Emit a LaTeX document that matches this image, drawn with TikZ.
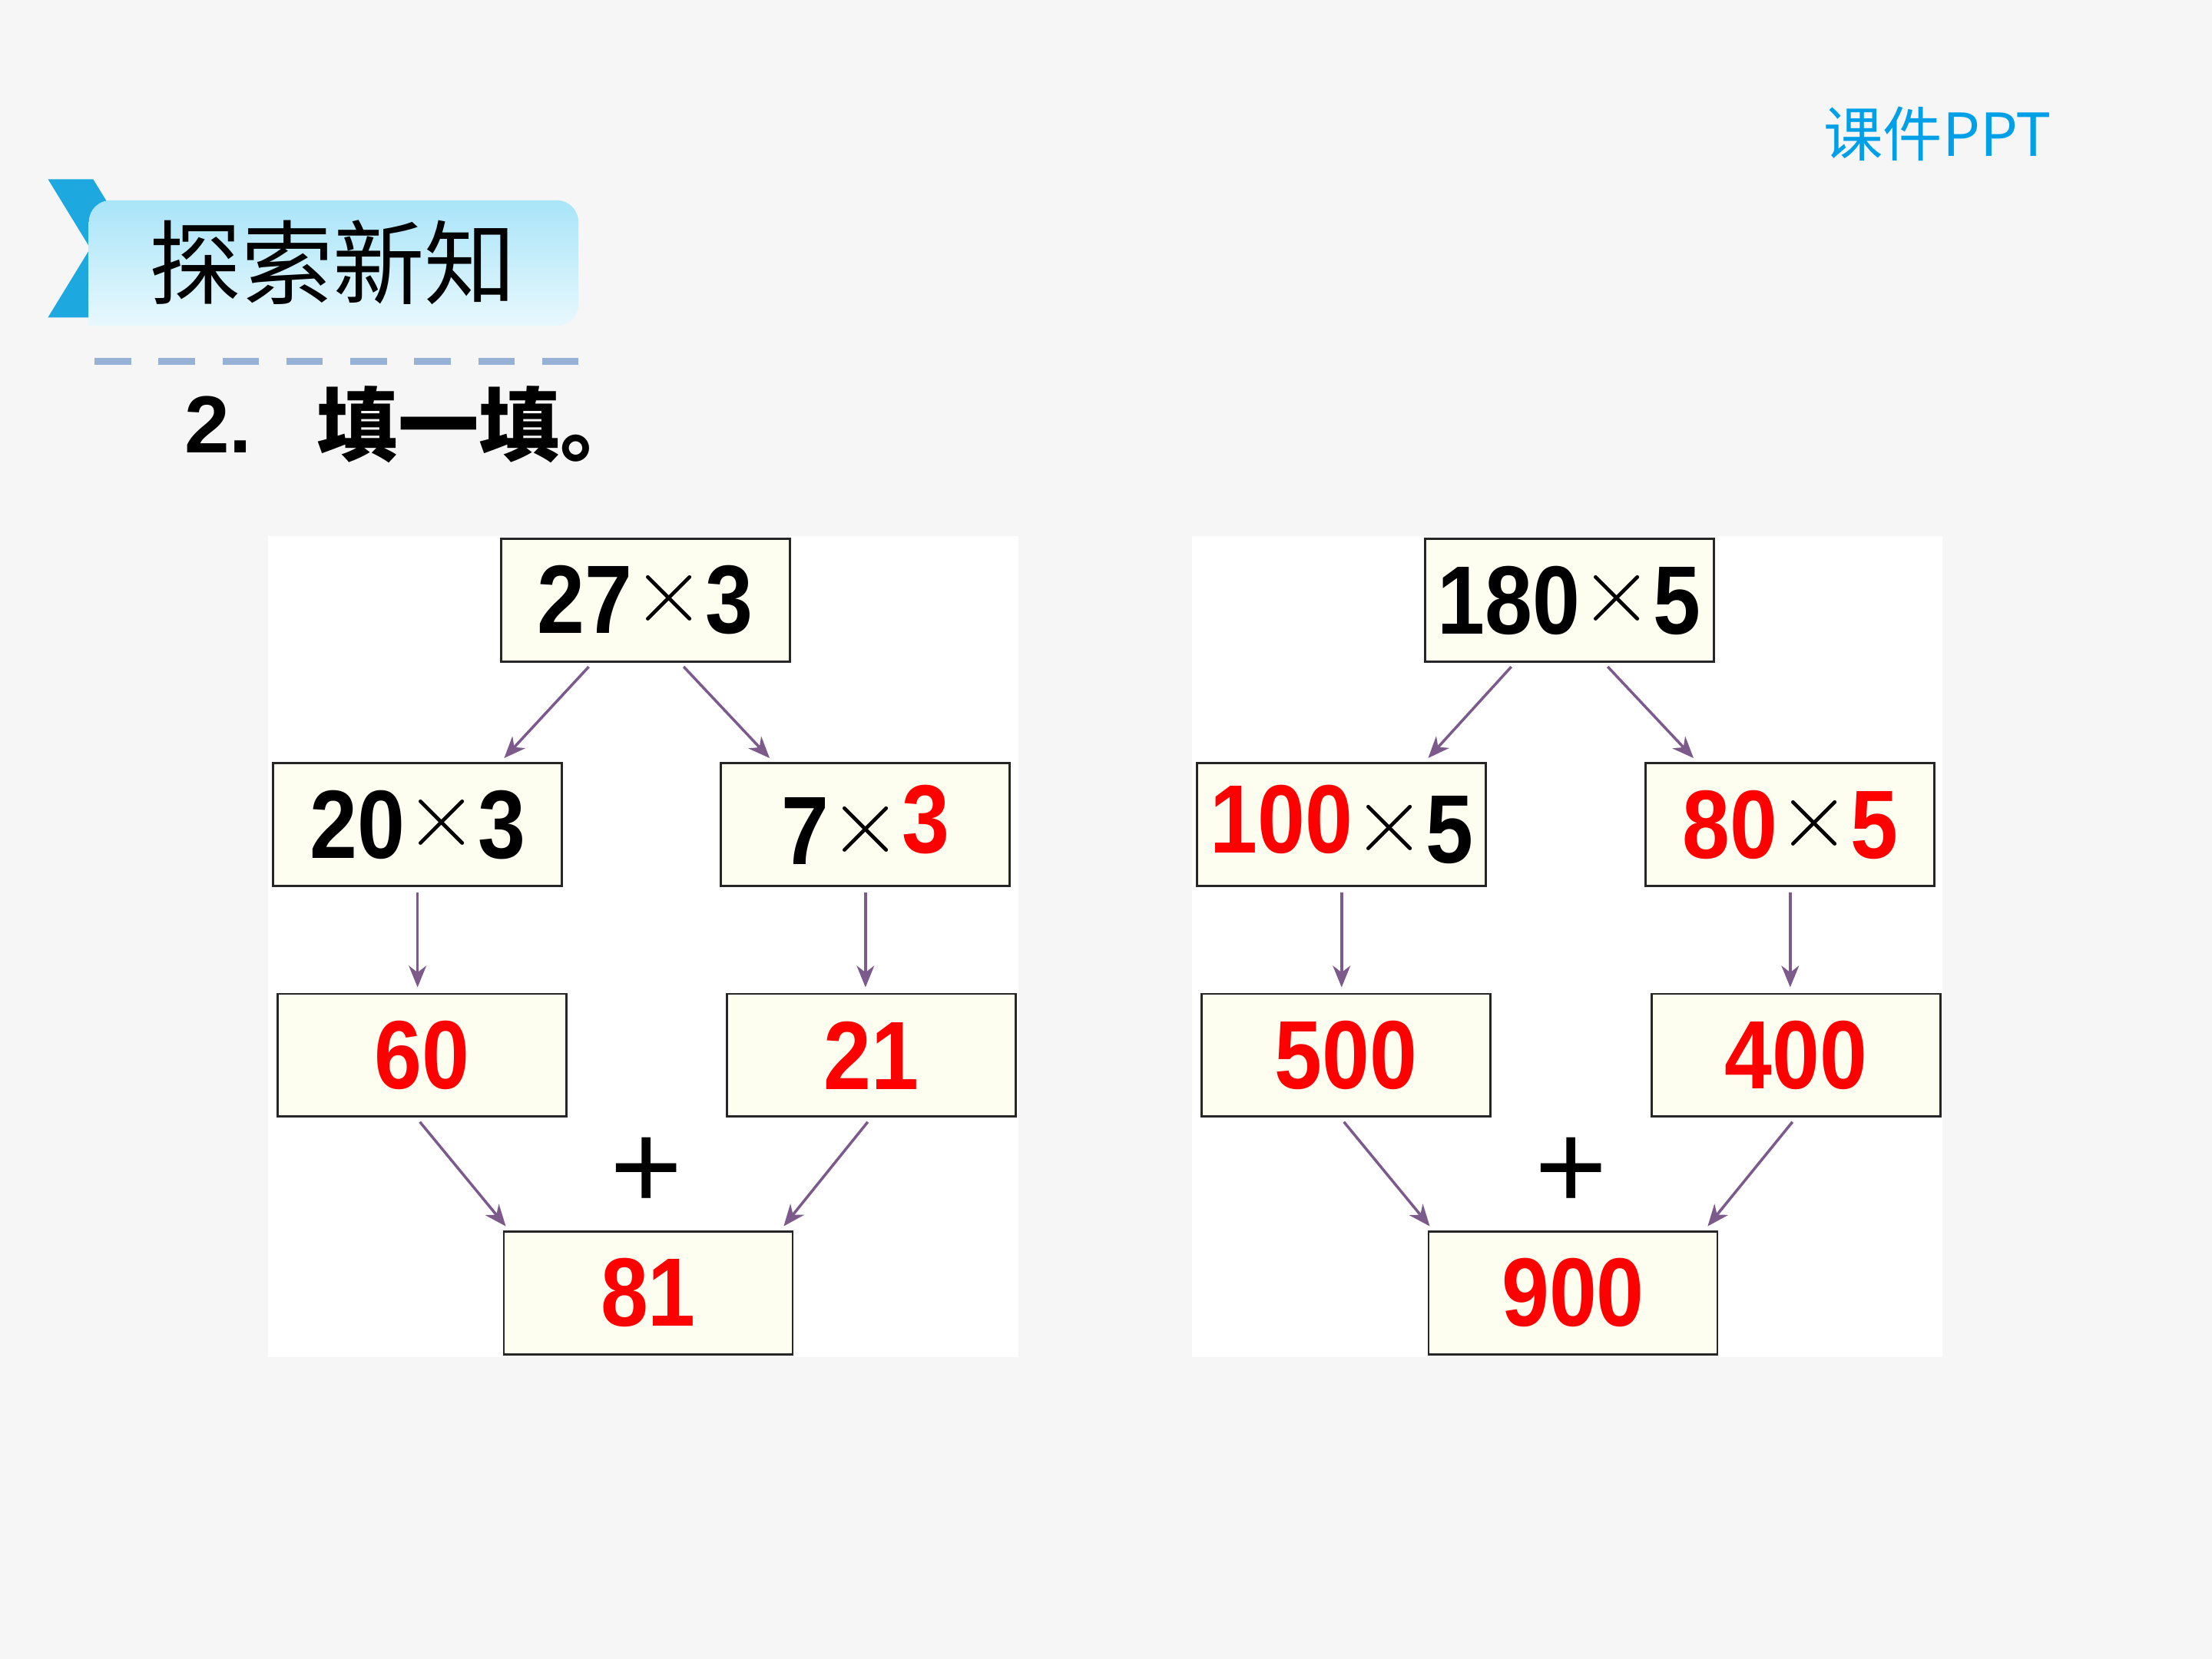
\documentclass[tikz,border=0pt]{standalone}
\usepackage{fontspec}
\setmainfont{Liberation Sans}
\newfontfamily\cjk{Noto Sans CJK SC}
\newfontfamily\numfont{Liberation Sans}[FakeStretch=0.88]
\usetikzlibrary{arrows.meta}

\definecolor{pagebg}{RGB}{246,246,246}
\definecolor{boxfill}{RGB}{254,254,240}
\definecolor{arrowc}{RGB}{124,90,140}
\definecolor{tabblue}{RGB}{30,168,224}
\definecolor{tabtop}{RGB}{168,228,248}
\definecolor{tabbot}{RGB}{232,248,253}
\definecolor{dashc}{RGB}{150,178,214}
\definecolor{pptblue}{RGB}{0,160,233}

\newcommand{\tms}{\raisebox{4.3pt}{\scalebox{1.4}{$\times$}}}

\begin{document}
\begin{tikzpicture}[
	x=0.018367cm, y=-0.018367cm,
	box/.style={
		draw=black!85, line width=0.8pt, fill=boxfill,
		minimum width=3.76cm, minimum height=1.6cm,
		inner sep=0pt, font=\numfont\bfseries\fontsize{36}{40}\selectfont
	},
	res/.style={box, text=red},
	arr/.style={-{Stealth[length=8pt,width=6.5pt,inset=2.5pt]}, line width=1pt, draw=arrowc,
		shorten <=2pt, shorten >=2pt},
	plus/.style={font=\fontsize{46}{50}\selectfont, inner sep=0pt},
	]
	
	% page and header
	\fill[pagebg] (0,0) rectangle (1568,1176);
	\useasboundingbox (0,0) rectangle (1568,1176);
	\fill[tabblue] (34,127) -- (66,127) -- (96,176) -- (66,225) -- (34,225) -- (64,176) -- cycle;
	\shade[top color=tabtop, bottom color=tabbot, rounded corners=8pt]
		(63,231) -- (63,142) -- (410,142) -- (410,231) [sharp corners] -- cycle;
	\node[font=\cjk\fontsize{34}{38}\selectfont] (title) at (236,186) {探索新知};
	\draw[dashc, line width=2.6pt, dash pattern=on 13.5pt off 10.2pt] (67,256) -- (413,256);
	\node[anchor=west, font=\bfseries\fontsize{30}{34}\selectfont] (num) at (124,301) {2.};
	\node[anchor=west, font=\cjk\bfseries\fontsize{30}{34}\selectfont] (task) at (218,301) {填一填。};
	\node[anchor=west, text=pptblue, font=\cjk\fontsize{22}{26}\selectfont] (brand) at (1286,95) {课件PPT};
	
	% panels
	\fill[white] (190,380) rectangle (722,962);
	\fill[white] (845,380) rectangle (1377,962);
	
	% left tree
	\node[box] (l27) at (457.5,425.5) {27\tms3};
	\node[box] (l20) at (296,584.5) {20\tms3};
	\node[box] (l7)  at (613.5,584.5) {7\tms\raisebox{0.15cm}{\color{red}3}};
	\node[res] (l60) at (299,748) {60};
	\node[res] (l21) at (617.5,748) {21};
	\node[res] (l81) at (459.5,916.5) {81};
	\node[plus] (lplus) at (458,832) {+};
	
	\draw[arr] ([xshift=-0.69cm]l27.south) -- ([xshift=1.08cm]l20.north);
	\draw[arr] ([xshift=0.45cm]l27.south)  -- ([xshift=-1.2cm]l7.north);
	\draw[arr] (l20.south) -- (l20.south |- l60.north);
	\draw[arr] (l7.south)  -- (l7.south |- l21.north);
	\draw[arr] ([xshift=-0.07cm]l60.south) -- ([xshift=-1.81cm]l81.north);
	\draw[arr] (l21.south) -- ([xshift=1.72cm]l81.north);
	
	% right tree
	\node[box] (r180) at (1112.5,425.5) {180\tms5};
	\node[box] (r100) at (951,584.5) {\raisebox{0.13cm}{\color{red}100}\tms5};
	\node[box] (r80)  at (1269,584.5) {{\color{red}80}\tms{\color{red}5}};
	\node[res] (r500) at (954,748) {500};
	\node[res] (r400) at (1273,748) {400};
	\node[res] (r900) at (1115,916.5) {900};
	\node[plus] (rplus) at (1114,832) {+};
	
	\draw[arr] ([xshift=-0.71cm]r180.south) -- ([xshift=1.08cm]r100.north);
	\draw[arr] ([xshift=0.45cm]r180.south)  -- ([xshift=-1.21cm]r80.north);
	\draw[arr] (r100.south) -- (r100.south |- r500.north);
	\draw[arr] (r80.south)  -- (r80.south |- r400.north);
	\draw[arr] ([xshift=-0.07cm]r500.south) -- ([xshift=-1.82cm]r900.north);
	\draw[arr] (r400.south) -- ([xshift=1.71cm]r900.north);
	
\end{tikzpicture}
\end{document}
